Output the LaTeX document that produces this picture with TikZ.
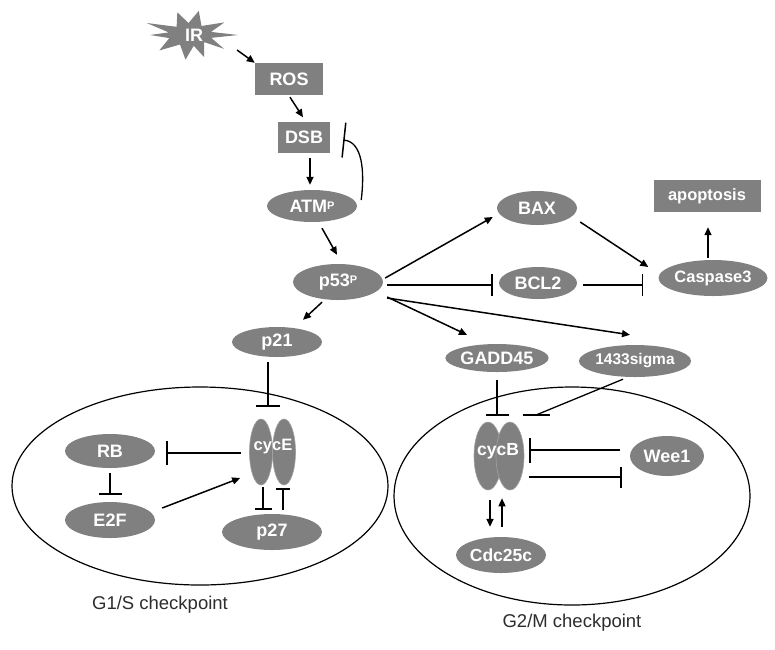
\documentclass[tikz,border=0pt]{standalone}
\usepackage{fontspec}
\setmainfont{Liberation Sans}
\usetikzlibrary{arrows.meta,calc,shapes.geometric}
\definecolor{nodegray}{RGB}{128,128,128}
\definecolor{labelgray}{RGB}{45,45,45}
\tikzset{
  bio/.style={fill=nodegray,draw=none,text=white,inner sep=0pt,font=\bfseries\fontsize{18}{18}\selectfont},
  smallbio/.style={font=\bfseries\fontsize{16.5}{16.5}\selectfont},
  oval/.style={bio,ellipse},
  boxn/.style={bio,rectangle},
  lobe/.style={fill=nodegray,draw=nodegray!75!white,line width=0.6pt,ellipse,inner sep=0pt},
  arr/.style={-{Triangle[length=8pt,width=7pt]},line width=1.5pt},
  inh/.style={-{Bar[width=#1,line width=1.5pt]},line width=1.3pt},
  inh/.default=22pt,
  compart/.style={draw=black,line width=1.2pt},
  chk/.style={text=labelgray,font=\fontsize{18.5}{18.5}\selectfont}
}
\newcommand{\phos}{{\fontsize{11}{11}\selectfont\raisebox{3pt}{P}}}
\begin{document}
\begin{tikzpicture}[x=1pt,y=-1pt]
\useasboundingbox (0,0) rectangle (775,649);
\fill[white] (0,0) rectangle (775,649);

% compartments
\draw[compart] (200,486) ellipse [x radius=188, y radius=99];
\draw[compart] (572,496) ellipse [x radius=178, y radius=109];
\node[chk] (g1lab) at (160,605) {G1/S checkpoint};
\node[chk] (g2lab) at (572,623) {G2/M checkpoint};

% IR starburst
\fill[nodegray,shift={(190,35)}]
  (0:48 and 24) -- (15:22 and 11) -- (32:40 and 26) -- (45:20 and 10) -- (62:30 and 25)
  -- (78:18 and 11) -- (100:26 and 25) -- (120:20 and 11) -- (140:40 and 24)
  -- (160:22 and 9) -- (180:40 and 20) -- (195:22 and 10) -- (210:50 and 24)
  -- (228:20 and 11) -- (245:30 and 25) -- (265:17 and 12) -- (285:34 and 25)
  -- (305:20 and 11) -- (325:42 and 22) -- (342:22 and 10) -- cycle;
\node[bio,fill=none] (IR) at (194,35) {IR};
\coordinate (irs) at (237,50);

% nodes
\node[boxn,minimum width=68pt,minimum height=32pt] (ROS) at (289,79) {ROS};
\node[boxn,minimum width=52pt,minimum height=31pt] (DSB) at (304,137) {DSB};
\node[oval,minimum width=90pt,minimum height=32pt] (ATM) at (312,206) {ATM\phos};
\node[oval,minimum width=90pt,minimum height=36pt] (p53) at (338,282) {p53\phos};
\node[oval,minimum width=80pt,minimum height=34pt] (BAX) at (537,208) {BAX};
\node[oval,minimum width=78pt,minimum height=32pt] (BCL2) at (538,283) {BCL2};
\node[oval,smallbio,minimum width=90pt,minimum height=36pt] (Casp) at (713,278) {Caspase3};
\node[boxn,smallbio,minimum width=107pt,minimum height=32pt] (apop) at (707,196) {apoptosis};
\node[oval,minimum width=90pt,minimum height=30pt] (p21) at (277,342) {p21};
\node[oval,minimum width=90pt,minimum height=28pt] (GADD) at (497,358) {GADD45};
\node[oval,minimum width=90pt,minimum height=32pt,font=\bfseries\fontsize{15.5}{15.5}\selectfont] (sigma) at (635,361) {1433sigma};
\node[oval,minimum width=90pt,minimum height=34pt] (RB) at (110,451) {RB};
\node[oval,minimum width=90pt,minimum height=36pt] (E2F) at (110,520) {E2F};
\node[oval,minimum width=100pt,minimum height=36pt] (p27) at (272,532) {p27};
\node[oval,minimum width=74pt,minimum height=40pt] (Wee1) at (667,456) {Wee1};
\node[oval,minimum width=90pt,minimum height=36pt,font=\bfseries\fontsize{17.5}{17.5}\selectfont] (Cdc) at (501,555) {Cdc25c};

% cycE complex
\node[lobe,minimum width=23pt,minimum height=66pt] (cycEl) at (261,452) {};
\node[lobe,minimum width=23pt,minimum height=66pt] (cycEr) at (284,452) {};
\node[bio,fill=none,smallbio] (cycE) at (273,447) {cycE};
% cycB complex
\node[lobe,minimum width=28pt,minimum height=68pt] (cycBl) at (488,456) {};
\node[lobe,minimum width=28pt,minimum height=68pt] (cycBr) at (510,456) {};
\node[bio,fill=none,font=\bfseries\fontsize{17.5}{17.5}\selectfont] (cycB) at (498,451) {cycB};

% upstream
\draw[arr] (irs) -- (ROS.north west);
\draw[arr] ($(ROS.south)+(1,2)$) -- ($(DSB.north)+(-1,-4)$);
\draw[arr] ($(ATM.north |- DSB.south)+(-2,5)$) -- ($(ATM.north)+(-2,-5)$);
\draw[inh=35pt] ($(ATM.east)+(4,-6)$) .. controls (365,170) and (362,142) .. ($(DSB.east)+(13,3)$);
\draw[arr] ($(ATM.south)+(10,6)$) -- ($(p53.north)+(-1,-9)$);

% p53 targets
\draw[arr] ($(p53.east)+(2,-4)$) -- ($(BAX.west)+(-4,9)$);
\draw[inh] ($(p53.east)+(4,3)$) -- ($(BCL2.west)+(-6,2)$);
\draw[arr] ($(p53.east)+(4,15)$) -- ($(GADD.north)+(-30,-9)$);
\draw[arr] ($(p53.east)+(4,16)$) -- ($(sigma.north)+(-5,-10)$);
\draw[arr] ($(p53.south)+(-16,2)$) -- ($(p21.north)+(26,-7)$);

% apoptosis branch
\draw[arr] ($(BAX.east)+(3,14)$) -- ($(Casp.west)+(-10,-11)$);
\draw[inh] ($(BCL2.east)+(6,2)$) -- ($(Casp.west)+(-15,7)$);
\draw[arr] ($(Casp.north)+(-5,-2)$) -- ($(apop.south)+(1,15)$);

% G1/S
\draw[inh=24pt] ($(p21.south)+(-9,5)$) -- ($(cycEl.north)+(7,-12)$);
\draw[inh=24pt] ($(cycEl.west)+(-8.5,1)$) -- ($(RB.east)+(11,2)$);
\draw[inh=23pt] ($(RB.south)+(0,5)$) -- ($(E2F.north)+(0,-7)$);
\draw[arr] ($(E2F.east)+(7,-12)$) -- ($(cycEl.west)+(-9,26)$);
\draw[inh=17pt] ($(cycEl.south)+(2,2)$) -- ($(p27.north)+(-9,-4)$);
\draw[inh=14pt] ($(p27.north)+(11,-4)$) -- ($(cycEr.south)+(-1,3)$);

% G2/M
\draw[inh=23pt] ($(GADD.south)+(0,8)$) -- ($(cycBl.north)+(9,-6)$);
\coordinate (sigend) at (536,415);
\draw[line width=1.3pt] ($(sigma.south)+(-12,2)$) -- (sigend);
\draw[line width=1.5pt] ($(sigend)+(-13,0)$) -- ($(sigend)+(14,0)$);
\draw[inh=25pt] ($(Wee1.west)+(-10,-6)$) -- ($(cycBr.east)+(5,-6)$);
\draw[inh=21pt] ($(cycBr.east)+(5,21)$) -- ($(Wee1.west)+(-8,21)$);
\draw[arr] ($(cycBl.south)+(2,10)$) -- ($(Cdc.north)+(-11,-10)$);
\draw[arr] ($(Cdc.north)+(1,-10)$) -- ($(cycBr.south)+(-8,8)$);
\end{tikzpicture}
\end{document}
